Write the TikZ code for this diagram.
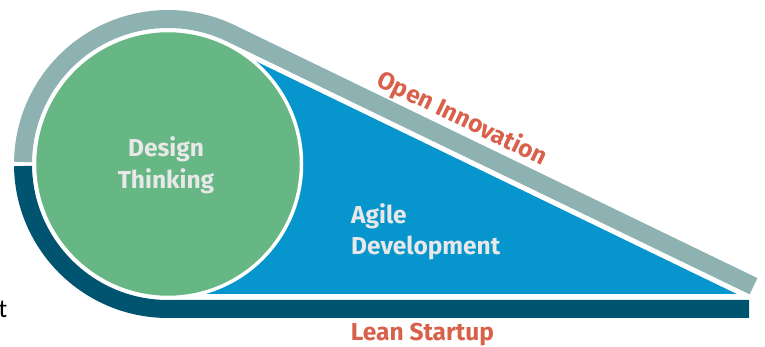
\documentclass[tikz,border=0pt]{standalone}
\usepackage{fontspec}
\setmainfont{Fira Sans}
\newfontfamily\tfont{Carlito}
\usetikzlibrary{calc}
\definecolor{bandgray}{HTML}{8EB2B1}
\definecolor{banddark}{HTML}{00546F}
\definecolor{agileblue}{HTML}{0795CD}
\definecolor{dtgreen}{HTML}{66B784}
\definecolor{lblgray}{HTML}{E8E8E8}
\definecolor{coral}{HTML}{D9604A}
\begin{document}
\begin{tikzpicture}[x=1pt,y=1pt,
  band/.style={line width=18pt},
  innerlbl/.style={font=\bfseries\fontsize{24.5}{31.5}\selectfont, text=lblgray, inner sep=0},
  outerlbl/.style={font=\bfseries\fontsize{24.5}{30}\selectfont, text=coral, inner sep=0}]
\useasboundingbox (0,0) rectangle (765,347);
\coordinate (C) at (168,183);
\coordinate (grayend) at (753.5,60.8);
\coordinate (darkend) at (749,38);
\fill[agileblue] (C) -- (230,298.2) -- (736.7,53) -- (168,53) -- cycle;
\draw[band, bandgray] ($(C)+(179.2:145)$) arc[start angle=179.2, end angle=64.3, radius=145] -- (grayend);
\draw[band, banddark] ($(C)+(180.8:145)$) arc[start angle=180.8, end angle=270, radius=145] -- (darkend);
\node[circle, fill=dtgreen, draw=white, line width=3.5pt, minimum size=267pt, inner sep=0] (dt) at (C) {};
\node[innerlbl, align=center] (dtl) at (166,181.5) {Design\\Thinking};
\node[innerlbl, align=left, anchor=west] (ad) at (351,115) {Agile\\Development};
\node[outerlbl, rotate=-25.7] (oi) at (462,228) {Open Innovation};
\node[outerlbl, anchor=base] (ls) at (422.5,6) {Lean Startup};
\node[font=\tfont\fontsize{26}{30}\selectfont, anchor=base east, inner sep=0] (tt) at (7.5,29) {t};
\end{tikzpicture}
\end{document}
